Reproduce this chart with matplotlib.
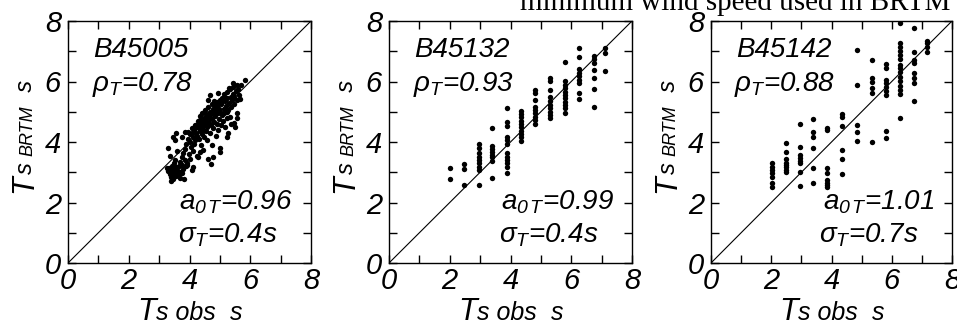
#!/usr/bin/env python3
import matplotlib
matplotlib.use("Agg")
import matplotlib.pyplot as plt
from matplotlib.ticker import MultipleLocator

plt.rcParams['font.family'] = ['Liberation Sans', 'DejaVu Sans']
plt.rcParams['mathtext.fontset'] = 'custom'
plt.rcParams['mathtext.it'] = 'Liberation Sans:italic'
plt.rcParams['mathtext.rm'] = 'Liberation Sans:italic'

# ---- data ----
# B45005 (dense cloud)
obs_45005 = [3.30, 3.32, 3.35, 3.36, 3.38, 3.40, 3.40, 3.42, 3.44, 3.45, 3.46, 3.48, 3.48, 3.50, 3.52, 3.52,
             3.55, 3.55, 3.30, 3.35, 3.47, 3.52, 3.55, 3.25, 3.58,
             3.62, 3.64, 3.66, 3.68, 3.70, 3.72, 3.74, 3.74, 3.76, 3.78, 3.80, 3.82, 3.84, 3.85, 3.86, 3.88,
             3.74, 3.90,
             3.92, 3.93, 3.95, 3.96, 3.98, 4.00, 4.02, 4.03, 4.05, 4.07, 4.07, 4.08, 4.10, 4.12, 4.13, 4.14,
             4.16, 4.18, 4.19,
             4.22, 4.24, 4.25, 4.26, 4.28, 4.29, 4.30, 4.32, 4.33, 4.34, 4.35, 4.35, 4.37, 4.38, 4.40, 4.41,
             4.42, 4.44, 4.45, 4.46, 4.48, 4.49,
             4.51, 4.52, 4.54, 4.55, 4.57, 4.57, 4.59, 4.60, 4.61, 4.62, 4.63, 4.64, 4.66, 4.67, 4.68, 4.68,
             4.70, 4.70, 4.72, 4.73, 4.74, 4.75, 4.76, 4.78, 4.79, 4.79,
             4.81, 4.82, 4.84, 4.85, 4.86, 4.88, 4.89, 4.90, 4.92, 4.93, 4.95, 4.95, 4.97, 4.98, 5.00, 5.00,
             5.00, 5.02, 5.04, 5.05, 5.07, 5.08,
             5.10, 5.12, 5.13, 5.15, 5.16, 5.18, 5.20, 5.22, 5.22, 5.22, 5.24, 5.25, 5.27, 5.28, 5.30, 5.31,
             5.33, 5.33, 5.35, 5.37, 5.38,
             5.40, 5.42, 5.44, 5.44, 5.46, 5.47, 5.48, 5.50, 5.52, 5.55, 5.55, 5.58, 5.58, 5.60, 5.63, 5.66,
             5.70, 5.83, 5.20, 4.50, 4.20, 4.60, 4.90, 5.05, 4.45, 4.35]
brtm_45005 = [3.05, 3.15, 2.95, 3.10, 2.72, 2.85, 3.00, 3.20, 3.08, 2.78, 2.92, 3.05, 3.30, 3.12, 2.98, 3.40,
              3.18, 2.88, 3.80, 3.55, 4.18, 4.07, 4.30, 3.13, 3.70,
              3.05, 2.95, 3.20, 2.80, 3.35, 3.00, 3.50, 2.96, 3.25, 3.62, 3.10, 2.77, 3.40, 4.34, 3.78, 3.20,
              4.18, 3.95,
              3.30, 3.24, 4.10, 4.34, 3.60, 4.00, 3.45, 4.25, 3.85, 4.29, 3.07, 4.45, 3.70, 4.15, 3.18, 4.40,
              3.95, 4.55, 4.05,
              4.30, 4.56, 3.55, 4.20, 4.70, 3.52, 4.45, 4.10, 4.85, 4.35, 3.68, 4.73, 4.60, 3.90, 4.50, 4.25,
              4.95, 4.65, 4.40, 3.75, 4.80, 4.15,
              4.55, 5.05, 4.35, 4.70, 4.07, 4.90, 4.50, 3.45, 5.15, 5.39, 4.62, 4.80, 4.30, 5.00, 5.55, 4.84,
              3.26, 4.55, 4.95, 4.75, 5.25, 3.90, 4.45, 5.10, 4.95, 3.52,
              4.65, 5.35, 5.22, 4.85, 4.20, 5.05, 5.33, 4.60, 5.20, 4.95, 5.61, 4.40, 5.10, 4.75, 5.39, 3.79,
              3.68, 5.00, 4.55, 5.25, 4.90, 5.45,
              4.70, 5.59, 5.10, 4.95, 5.35, 4.50, 5.20, 5.66, 5.00, 4.18, 4.80, 5.45, 5.05, 4.29, 5.30, 5.77,
              4.84, 5.74, 5.50, 5.15, 4.60,
              5.40, 5.60, 5.81, 5.94, 5.25, 4.62, 5.50, 4.51, 5.70, 5.88, 5.40, 4.97, 4.78, 5.75, 5.55, 5.41,
              5.90, 6.05, 5.45, 4.95, 4.50, 4.85, 5.00, 5.30, 4.60, 4.40]

# B45132 (binned observed periods)
obs_45132 = [2.01, 2.01,
             2.48, 2.48, 2.48,
             2.95, 2.95, 2.95, 2.95, 2.95, 2.95, 2.95, 2.95, 2.95,
             3.40, 3.40, 3.40, 3.40, 3.40, 3.40, 3.40, 3.40,
             3.87, 3.87, 3.87, 3.87, 3.87, 3.87, 3.87, 3.87, 3.87, 3.87, 3.87, 3.87,
             4.34, 4.34, 4.34, 4.34, 4.34, 4.34, 4.34, 4.34, 4.34, 4.34,
             4.81, 4.81, 4.81, 4.81, 4.81, 4.81, 4.81, 4.81, 4.81,
             5.31, 5.31, 5.31, 5.31, 5.31, 5.31, 5.31, 5.31, 5.31, 5.31,
             5.80, 5.80, 5.80, 5.80, 5.80, 5.80, 5.80, 5.80, 5.80, 5.80, 5.80,
             6.26, 6.26, 6.26, 6.26, 6.26, 6.26, 6.26, 6.26, 6.26,
             6.74, 6.74, 6.74, 6.74, 6.74, 6.74, 6.74,
             7.12, 7.12, 7.12]
brtm_45132 = [3.15, 2.78,
              3.28, 3.10, 2.57,
              3.93, 3.79, 3.63, 3.49, 3.40, 3.29, 3.18, 3.07, 2.57,
              4.47, 3.88, 3.77, 3.66, 3.57, 3.49, 3.37, 2.80,
              5.13, 4.65, 4.54, 4.18, 4.07, 3.93, 3.63, 3.52, 3.40, 3.29, 3.18, 2.96,
              5.02, 4.93, 4.82, 4.70, 4.60, 4.48, 4.37, 4.26, 4.15, 4.04,
              5.72, 5.61, 5.39, 5.17, 5.06, 4.95, 4.84, 4.73, 4.60,
              6.13, 6.02, 5.72, 5.50, 5.36, 5.22, 5.11, 5.00, 4.89, 4.78,
              6.63, 6.02, 5.88, 5.77, 5.66, 5.55, 5.44, 5.33, 5.22, 5.11, 4.95,
              7.10, 6.82, 6.40, 6.29, 6.18, 6.05, 5.94, 5.63, 5.41,
              6.84, 6.73, 6.62, 6.38, 6.13, 5.74, 5.17,
              7.12, 6.95, 6.35]

# B45142
obs_45142 = [2.02, 2.02, 2.02, 2.02, 2.02, 2.02, 2.02,
             2.48, 2.48, 2.48, 2.48, 2.48, 2.48, 2.48, 2.48,
             2.94, 2.94, 2.94, 2.94, 2.94, 2.94, 2.94, 2.94,
             3.39, 3.39, 3.39, 3.39, 3.39, 3.39,
             3.86, 3.86, 3.86, 3.86, 3.86, 3.86, 3.86, 3.86,
             4.34, 4.34, 4.34, 4.34, 4.34, 4.34,
             4.83, 4.83, 4.83, 4.83, 4.83,
             5.34, 5.34, 5.34, 5.34, 5.34, 5.34,
             5.81, 5.81, 5.81, 5.81, 5.81, 5.81, 5.81, 5.81, 5.81,
             6.27, 6.27, 6.27, 6.27, 6.27, 6.27, 6.27, 6.27, 6.27, 6.27, 6.27, 6.27, 6.27, 6.27, 6.27,
             6.73, 6.73, 6.73, 6.73, 6.73, 6.73, 6.73, 6.73,
             7.17, 7.17, 7.17, 7.17]
brtm_45142 = [3.29, 3.18, 3.07, 2.96, 2.85, 2.63, 2.52,
              3.96, 3.68, 3.43, 3.32, 3.24, 3.16, 3.07, 3.00,
              4.60, 3.85, 3.57, 3.46, 3.37, 3.30, 3.02, 2.56,
              4.76, 4.32, 4.15, 3.79, 3.15, 2.66,
              4.47, 4.40, 3.13, 2.96, 2.74, 2.66, 2.58, 2.50,
              4.91, 4.82, 4.53, 3.73, 3.44, 2.93,
              7.04, 5.90, 4.56, 4.32, 4.04,
              6.71, 6.10, 5.99, 5.80, 5.61, 4.01,
              6.57, 6.44, 6.05, 5.94, 5.81, 5.69, 5.55, 4.37, 4.12,
              7.94, 7.26, 7.15, 7.02, 6.88, 6.73, 6.55, 6.44, 6.33, 6.16, 6.02, 5.85, 5.72, 5.58, 4.80,
              7.76, 6.99, 6.71, 6.60, 6.27, 6.13, 5.96, 5.36,
              7.35, 7.26, 7.13, 6.99]

buoys = ['B45005', 'B45132', 'B45142']
rho = ['0.78', '0.93', '0.88']
a0 = ['0.96', '0.99', '1.01']
sigma = ['0.4', '0.4', '0.7']
obs_all = [obs_45005, obs_45132, obs_45142]
brtm_all = [brtm_45005, brtm_45132, brtm_45142]

W, H = 957, 325
fig = plt.figure(figsize=(W / 100, H / 100), dpi=100)

# axes boxes in pixels (left, right), shared top/bottom
boxes = [(68, 311), (389, 632), (711, 952)]
top_px, bot_px = 21, 263

itf = dict(style='italic')
ann_fs = 20

for k, (l, r) in enumerate(boxes):
    ax = fig.add_axes([l / W, 1 - bot_px / H, (r - l) / W, (bot_px - top_px) / H])
    ax.plot([0, 8], [0, 8], color='black', lw=0.8, zorder=1)
    ax.scatter(obs_all[k], brtm_all[k], s=15, color='black', linewidths=0, zorder=2)
    ax.set_xlim(0, 8)
    ax.set_ylim(0, 8)
    ax.xaxis.set_major_locator(MultipleLocator(2))
    ax.xaxis.set_minor_locator(MultipleLocator(1))
    ax.yaxis.set_major_locator(MultipleLocator(2))
    ax.yaxis.set_minor_locator(MultipleLocator(1))
    ax.tick_params(which='both', direction='in', top=True, right=True, length=6, width=1)
    ax.tick_params(which='major', labelsize=21)
    ax.tick_params(axis='x', which='major', pad=3)
    ax.tick_params(axis='y', which='major', pad=5)
    for lab in ax.get_xticklabels() + ax.get_yticklabels():
        lab.set_fontstyle('italic')
    for sp in ax.spines.values():
        sp.set_linewidth(1)

    ax.text(0.83, 7.05, buoys[k], fontsize=ann_fs, va='center', ha='left', **itf)
    ax.text(0.78, 5.9, r'$\rho_T$=' + rho[k], fontsize=ann_fs, va='center', ha='left', **itf)
    ax.text(7.4, 2.0, r'$a_{0\,T}$=' + a0[k], fontsize=ann_fs, va='center', ha='right', **itf)
    ax.text(6.9, 0.93, r'$\sigma_T$=' + sigma[k] + 's', fontsize=ann_fs, va='center', ha='right', **itf)

    # x label: big T, smaller "s obs", then unit
    xb = -0.235
    t1 = ax.text(0.285, xb, 'T', fontsize=22, ha='left', va='baseline',
                 transform=ax.transAxes, **itf)
    t2 = ax.annotate('s obs', xy=(1, xb), xycoords=(t1, ax.transAxes),
                     fontsize=18, ha='left', va='baseline', annotation_clip=False, **itf)
    ax.annotate('  s', xy=(1, xb), xycoords=(t2, ax.transAxes),
                fontsize=18, ha='left', va='baseline', annotation_clip=False, **itf)

    # y label, rotated
    yb = -0.148
    u1 = ax.text(yb, 0.29, 'T', fontsize=22, rotation=90, rotation_mode='anchor',
                 ha='left', va='baseline', transform=ax.transAxes, **itf)
    u2 = ax.annotate('s ', xy=(yb, 1), xycoords=(ax.transAxes, u1), fontsize=17,
                     rotation=90, rotation_mode='anchor', ha='left', va='baseline',
                     annotation_clip=False, **itf)
    u3 = ax.annotate('BRTM', xy=(yb, 1), xycoords=(ax.transAxes, u2), fontsize=13,
                     rotation=90, rotation_mode='anchor', ha='left', va='baseline',
                     annotation_clip=False, **itf)
    ax.annotate('  s', xy=(yb, 1), xycoords=(ax.transAxes, u3), fontsize=17,
                rotation=90, rotation_mode='anchor', ha='left', va='baseline',
                annotation_clip=False, **itf)

# caption fragment cut off at the top of the picture
fig.text(520 / W, 1 - 10 / H, 'minimum wind speed used in BRTM', fontsize=21,
         family='Liberation Serif', ha='left', va='baseline')

fig.savefig('out.png', dpi=100)
